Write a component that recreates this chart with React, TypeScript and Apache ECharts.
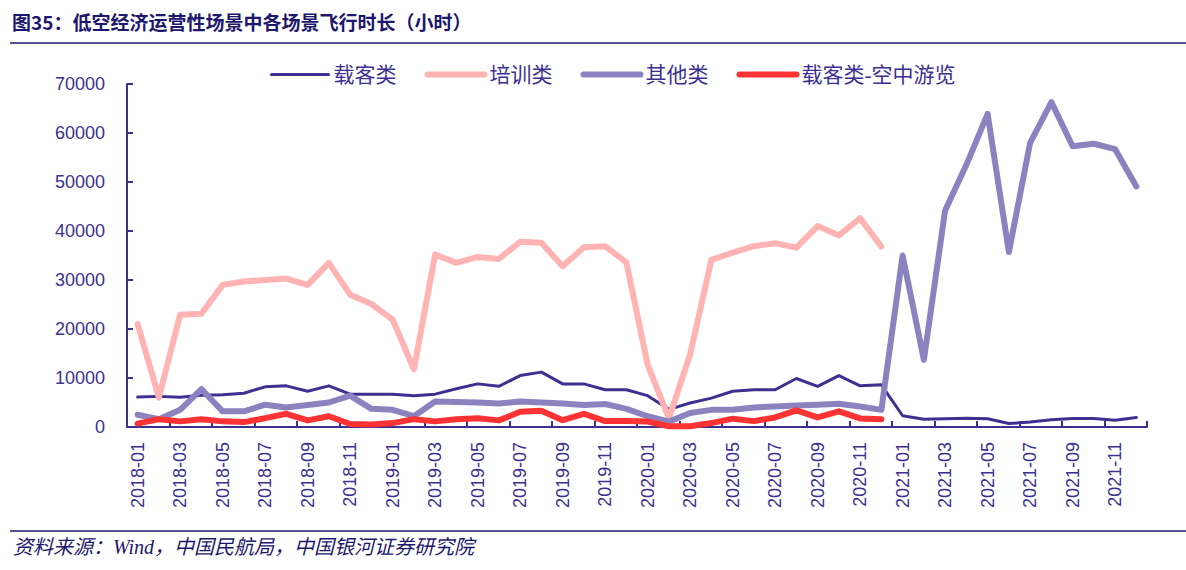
import React, { useEffect, useRef } from "react";
import * as echarts from "echarts";

const categories: string[] = [];
for (const y of [2018, 2019, 2020, 2021]) {
  for (let m = 1; m <= 12; m++) categories.push(`${y}-${m < 10 ? "0" + m : m}`);
}

const seriesNames = ["载客类", "培训类", "其他类", "载客类-空中游览"];

const passenger = [
  6100, 6250, 6050, 6500, 6600, 6900, 8200, 8400, 7300, 8400, 6700, 6700,
  6700, 6400, 6700, 7800, 8800, 8300, 10500, 11200, 8800, 8800, 7600, 7600,
  6400, 3600, 4900, 5900, 7300, 7600, 7600, 9900, 8300, 10500, 8400, 8600,
  2300, 1600, 1700, 1800, 1700, 700, 1000, 1500, 1750, 1750, 1400, 1950,
];

const training: (number | null)[] = [
  21000, 6000, 22900, 23100, 29000, 29700, 30000, 30300, 29000, 33500, 27000, 25100,
  21900, 11800, 35200, 33500, 34700, 34300, 37800, 37600, 32800, 36700, 36900, 33600,
  12700, 1800, 14800, 34100, 35600, 36900, 37500, 36600, 41000, 39100, 42600, 36800,
  null, null, null, null, null, null, null, null, null, null, null, null,
];

const others = [
  2500, 1600, 3500, 7750, 3200, 3200, 4550, 4000, 4500, 5000, 6400, 3700,
  3500, 2200, 5200, 5100, 5000, 4800, 5200, 5000, 4800, 4500, 4700, 3700,
  2200, 1100, 2850, 3500, 3500, 4000, 4200, 4400, 4550, 4750, 4200, 3500,
  35000, 13700, 44200, 53500, 63900, 35700, 58000, 66300, 57300, 57800, 56700, 49100,
];

const aerialTour: (number | null)[] = [
  700, 1600, 1150, 1600, 1150, 1000, 1800, 2700, 1350, 2200, 600, 500,
  800, 1600, 1150, 1600, 1800, 1350, 3100, 3300, 1400, 2700, 1200, 1200,
  1100, 150, 150, 800, 1700, 1200, 1950, 3400, 1950, 3200, 1750, 1600,
  null, null, null, null, null, null, null, null, null, null, null, null,
];

const titleText = "图35：低空经济运营性场景中各场景飞行时长（小时）";
const sourceText = "资料来源：Wind，中国民航局，中国银河证券研究院";

const NAVY = "#3d3090";
const colors = [NAVY, "#ffb3b3", "#8b83bf", "#ff3333"];
const widths = [3, 6, 6, 6];
const dataSets = [passenger, training, others, aerialTour];

export default function App() {
  const ref = useRef<HTMLDivElement>(null);
  useEffect(() => {
    if (!ref.current) return;
    const chart = echarts.init(ref.current, undefined, { renderer: "svg" });
    chart.setOption({
      animation: false,
      backgroundColor: "#ffffff",
      grid: { left: 127, right: 39, top: 84, bottom: 143, containLabel: false },
      legend: {
        left: 265,
        top: 59,
        itemWidth: 57,
        itemHeight: 14,
        itemGap: 28,
        itemStyle: { opacity: 0 },
        textStyle: {
          fontSize: 21,
          color: NAVY,
          fontFamily: "'Liberation Serif', 'Noto Sans CJK SC', serif",
        },
        data: seriesNames.map((name, i) => ({
          name,
          lineStyle: { width: widths[i], color: colors[i], cap: "round" },
          itemStyle: { opacity: 0 },
        })),
      },
      xAxis: {
        type: "category",
        data: categories,
        boundaryGap: true,
        axisLine: { lineStyle: { color: NAVY, width: 2 } },
        axisTick: { show: true, inside: true, interval: 1, length: 6, lineStyle: { color: NAVY, width: 2 } },
        axisLabel: {
          interval: 1,
          rotate: 90,
          margin: 15,
          fontSize: 18,
          color: NAVY,
          fontFamily: "'Liberation Sans', Arial, sans-serif",
        },
        splitLine: { show: false },
      },
      yAxis: {
        type: "value",
        min: 0,
        max: 70000,
        interval: 10000,
        axisLine: { show: true, lineStyle: { color: NAVY, width: 2 } },
        axisTick: { show: true, inside: true, length: 6, lineStyle: { color: NAVY, width: 2 } },
        axisLabel: {
          margin: 22,
          fontSize: 18,
          color: NAVY,
          fontFamily: "'Liberation Sans', Arial, sans-serif",
          formatter: (v: number) => String(v),
        },
        splitLine: { show: false },
      },
      series: seriesNames.map((name, i) => ({
        name,
        type: "line",
        data: dataSets[i],
        symbol: "none",
        showSymbol: false,
        connectNulls: false,
        color: colors[i],
        lineStyle: { color: colors[i], width: widths[i], cap: "round", join: "round" },
        z: 2 + i,
      })),
      graphic: [
        {
          type: "text",
          left: 12,
          top: 12,
          style: {
            text: titleText,
            fontSize: 19,
            fontWeight: "bold",
            fill: "#1e176e",
            fontFamily: "'Noto Sans CJK SC', sans-serif",
          },
        },
        {
          type: "line",
          shape: { x1: 10, y1: 43, x2: 1186, y2: 43 },
          style: { stroke: "#1e176e", lineWidth: 1.5 },
        },
        {
          type: "line",
          shape: { x1: 10, y1: 531, x2: 1186, y2: 531 },
          style: { stroke: "#1e176e", lineWidth: 1.5 },
        },
        {
          type: "text",
          left: 13,
          top: 537,
          style: {
            text: sourceText,
            fontSize: 20,
            fontStyle: "italic",
            fill: "#1e176e",
            fontFamily: "'Liberation Serif', 'Noto Sans CJK SC', serif",
          },
        },
      ],
    });
    return () => chart.dispose();
  }, []);
  return (
    <div
      ref={ref}
      style={{ position: "fixed", left: 0, top: 0, width: 1186, height: 570 }}
    />
  );
}
